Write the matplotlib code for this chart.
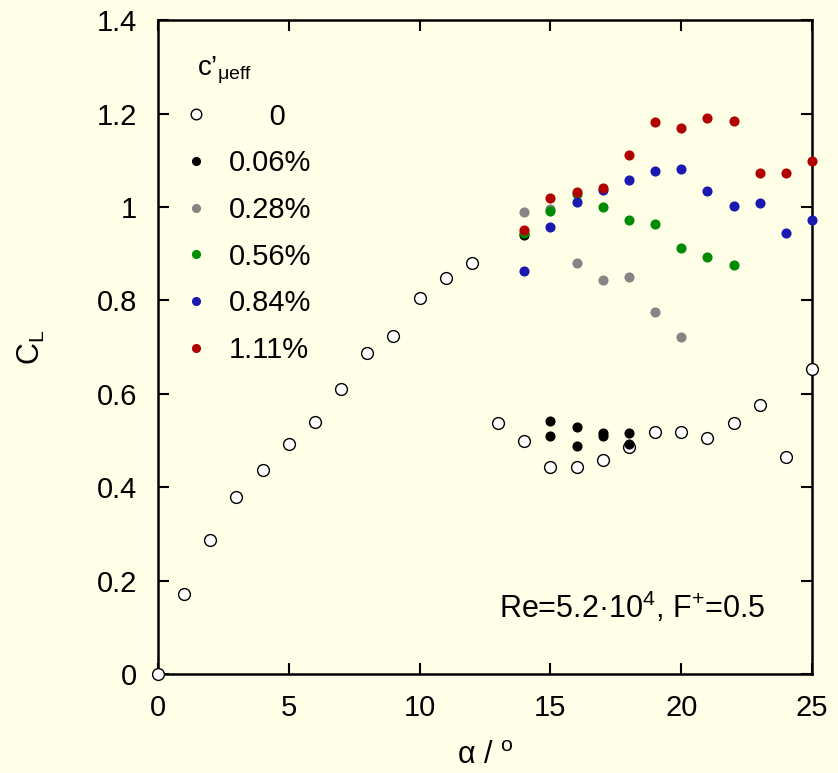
import matplotlib
matplotlib.use("Agg")
import matplotlib.pyplot as plt

plt.rcParams['font.family'] = ['Liberation Sans', 'DejaVu Sans']
plt.rcParams['mathtext.fontset'] = 'custom'
plt.rcParams['mathtext.rm'] = 'Liberation Sans'
plt.rcParams['mathtext.it'] = 'Liberation Sans'

BG = '#FFFFE8'

# c'_mu_eff = 0 (baseline)
alpha_0 = [0, 1, 2, 3, 4, 5, 6, 7, 8, 9, 10, 11, 12, 13, 14, 15, 16, 17, 18, 19, 20, 21, 22, 23, 24, 25]
cl_0 = [0.0, 0.171, 0.287, 0.379, 0.437, 0.492, 0.540, 0.610, 0.687, 0.724, 0.805, 0.848, 0.880,
        0.537, 0.499, 0.443, 0.443, 0.458, 0.486, 0.518, 0.518, 0.505, 0.537, 0.576, 0.465, 0.653]

alpha_006 = [14, 15, 15, 16, 16, 17, 17, 18, 18]
cl_006 = [0.940, 0.542, 0.510, 0.529, 0.488, 0.516, 0.510, 0.516, 0.492]

alpha_028 = [14, 15, 16, 17, 18, 19, 20]
cl_028 = [0.990, 0.995, 0.881, 0.844, 0.851, 0.775, 0.722]

alpha_056 = [14, 15, 16, 17, 18, 19, 20, 21, 22]
cl_056 = [0.944, 0.991, 1.027, 0.999, 0.973, 0.963, 0.913, 0.893, 0.876]

alpha_084 = [14, 15, 16, 17, 18, 19, 20, 21, 22, 23, 24, 25]
cl_084 = [0.862, 0.956, 1.011, 1.036, 1.058, 1.078, 1.081, 1.034, 1.001, 1.008, 0.945, 0.972]

alpha_111 = [14, 15, 16, 17, 18, 19, 20, 21, 22, 23, 24, 25]
cl_111 = [0.951, 1.019, 1.031, 1.041, 1.111, 1.182, 1.169, 1.191, 1.183, 1.073, 1.073, 1.098]

labels = ['     0', '0.06%', '0.28%', '0.56%', '0.84%', '1.11%']
legend_title = "c’$_{\\mathrm{μeff}}$"
xticks = [0, 5, 10, 15, 20, 25]
yticks = [0, 0.2, 0.4, 0.6, 0.8, 1.0, 1.2, 1.4]
ytick_labels = ['0', '0.2', '0.4', '0.6', '0.8', '1', '1.2', '1.4']

fig = plt.figure(figsize=(8.38, 7.73), dpi=100, facecolor=BG)
ax = fig.add_axes([0.1885, 0.128, 0.7805, 0.846], facecolor=BG)

ms = 7.3
ax.plot(alpha_0, cl_0, 'o', ms=8.5, mfc='white', mec='black', mew=1.0, label=labels[0], clip_on=False, zorder=3)
ax.plot(alpha_006, cl_006, 'o', ms=ms, mfc='black', mec='none', label=labels[1], clip_on=False, zorder=4)
ax.plot(alpha_028, cl_028, 'o', ms=ms, mfc='#858585', mec='none', label=labels[2], clip_on=False, zorder=5)
ax.plot(alpha_056, cl_056, 'o', ms=ms, mfc='#008C00', mec='none', label=labels[3], clip_on=False, zorder=6)
ax.plot(alpha_084, cl_084, 'o', ms=ms, mfc='#1A1AB0', mec='none', label=labels[4], clip_on=False, zorder=7)
ax.plot(alpha_111, cl_111, 'o', ms=ms, mfc='#B00000', mec='none', label=labels[5], clip_on=False, zorder=8)

ax.set_xlim(0, 25)
ax.set_ylim(0, 1.4)
ax.set_xticks(xticks)
ax.set_yticks(yticks)
ax.set_yticklabels(ytick_labels)
ax.tick_params(direction='in', length=8, width=1.5, top=True, right=True, labelsize=21)
ax.tick_params(axis='y', pad=15)
ax.tick_params(axis='x', pad=14)
for s in ax.spines.values():
    s.set_linewidth(1.8)

ax.set_xlabel('α / $^{\\mathrm{o}}$', fontsize=22, labelpad=14)
ax.set_ylabel('C$_{\\mathrm{L}}$', fontsize=22)
ax.yaxis.set_label_coords(-0.17, 0.5)

leg = ax.legend(loc='center left', bbox_to_anchor=(0.047, 0.674), frameon=False, fontsize=21,
                handletextpad=0.88, labelspacing=0.64, markerscale=0.9, handlelength=0.5,
                borderaxespad=0.0, borderpad=0.0)

ax.text(0.0596, 0.916, legend_title, transform=ax.transAxes, fontsize=20,
        ha='left', va='baseline')

ax.text(0.725, 0.1025, 'Re=5.2·10$^{4}$, F$^{+}$=0.5', transform=ax.transAxes,
        fontsize=22, ha='center', va='center')

fig.savefig('out.png', dpi=100, facecolor=BG)
